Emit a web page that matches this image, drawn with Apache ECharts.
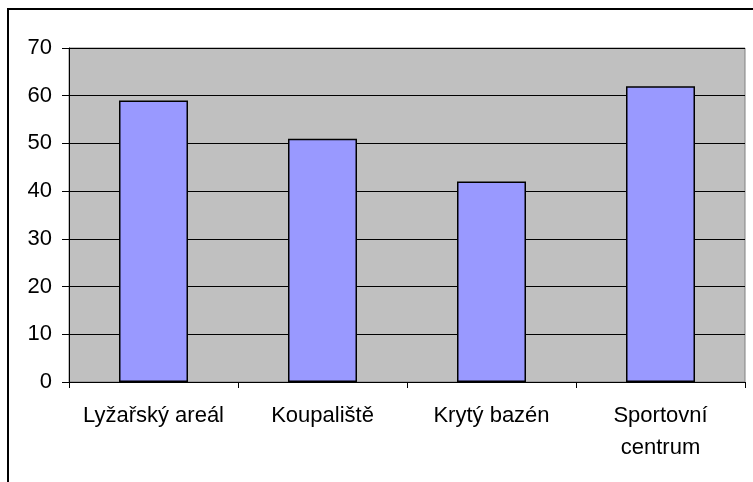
<!DOCTYPE html>
<html>
<head>
<meta charset="utf-8">
<script src="https://cdn.jsdelivr.net/npm/echarts@6/dist/echarts.min.js"></script>
<style>
  html, body { margin: 0; padding: 0; background: #fff; }
  #main { width: 753px; height: 482px; }
</style>
</head>
<body>
<div id="main"></div>
<script>
// data
var categories = ['Lyžařský areál', 'Koupaliště', 'Krytý bazén', 'Sportovní\ncentrum']
var values = [59, 51, 42, 62]
var yTicks = [0, 10, 20, 30, 40, 50, 60, 70]

var myChart = echarts.init(document.getElementById('main'))

var option = {
  animation: false,
  textStyle: { fontFamily: 'Liberation Sans, Arial, sans-serif' },
  graphic: [
    {
      type: 'rect',
      shape: { x: 8, y: 9, width: 800, height: 600 },
      style: { fill: 'none', stroke: '#000', lineWidth: 2 },
      silent: true
    }
  ],
  grid: {
    left: 69,
    top: 48,
    width: 676,
    height: 334,
    show: true,
    backgroundColor: '#c0c0c0',
    borderColor: '#808080',
    borderWidth: 1
  },
  xAxis: {
    type: 'category',
    data: categories,
    axisLine: { lineStyle: { color: '#000', width: 1 } },
    axisTick: { show: true, alignWithLabel: false, length: 6, lineStyle: { color: '#000' } },
    axisLabel: {
      color: '#000',
      fontSize: 22,
      lineHeight: 32,
      margin: 18,
      interval: 0
    }
  },
  yAxis: {
    type: 'value',
    min: yTicks[0],
    max: yTicks[yTicks.length - 1],
    interval: 10,
    axisLine: { show: true, lineStyle: { color: '#000', width: 1 } },
    axisTick: { show: true, length: 7, lineStyle: { color: '#000' } },
    axisLabel: { color: '#000', fontSize: 22, margin: 17 },
    splitLine: { show: true, lineStyle: { color: '#000', width: 1 } }
  },
  series: [
    {
      type: 'bar',
      data: values,
      barWidth: 69,
      itemStyle: {
        color: '#9999ff',
        borderColor: '#000',
        borderWidth: 1.5
      }
    }
  ]
}

myChart.setOption(option)
</script>
</body>
</html>
